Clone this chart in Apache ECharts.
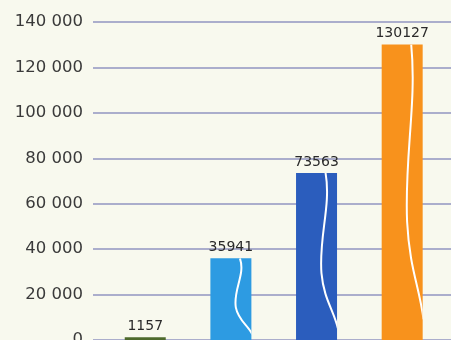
<!DOCTYPE html>
<html>
<head>
<meta charset="utf-8">
<script src="https://cdn.jsdelivr.net/npm/echarts@6/dist/echarts.min.js"></script>
<style>
html,body{margin:0;padding:0;background:#f8f9ee;}
#c{width:451px;height:340px;}
</style>
</head>
<body>
<div id="c"></div>
<script>
var categories = ['A', 'B', 'C', 'D'];
var values = [1157, 35941, 73563, 130127];
var colors = ['#4e6a2c', '#2d9be2', '#2b5dbd', '#f8921c'];
var yTicks = [0, 20000, 40000, 60000, 80000, 100000, 120000, 140000];

function fmt(v) {
  return String(v).replace(/\B(?=(\d{3})+(?!\d))/g, ' ');
}

var barData = values.map(function (v, i) {
  return { value: [i, v], itemStyle: { color: colors[i] } };
});

var chart = echarts.init(document.getElementById('c'), null, { renderer: 'canvas' });
chart.setOption({
  backgroundColor: '#f8f9ee',
  animation: false,
  grid: { left: 93, right: 0, top: 22, bottom: 0, containLabel: false, outerBoundsMode: 'none' },
  xAxis: {
    type: 'value', min: -0.61, max: 3.57,
    show: false
  },
  yAxis: {
    type: 'value', min: yTicks[0], max: yTicks[yTicks.length - 1], interval: 20000,
    axisLine: { show: false }, axisTick: { show: false },
    splitLine: { lineStyle: { color: '#abaecc', width: 2 } },
    axisLabel: {
      margin: 10, color: '#3a3a3a', fontSize: 16.5, fontFamily: 'DejaVu Sans',
      padding: [0, 0, 7, 0],
      formatter: function (v) { return fmt(v); }
    }
  },
  series: [
    {
      type: 'bar', data: barData, barWidth: 41,
      label: {
        show: true, position: 'top', distance: 4,
        color: '#2a2a2a', fontSize: 14, fontFamily: 'DejaVu Sans',
        formatter: function (p) { return String(p.value[1]); }
      }
    },
    {
      type: 'custom', silent: true, z: 5,
      data: values.map(function (v, i) { return [i, v]; }),
      renderItem: function (params, api) {
        var top = api.coord([api.value(0), api.value(1)]);
        var bot = api.coord([api.value(0), 0]);
        var w = 41, x0 = top[0] - w / 2, t = top[1], b = bot[1];
        var h = b - t;
        if (h < 20) return null;
        var p = 'M' + (x0 + 0.72 * w) + ' ' + t +
          ' C' + (x0 + 0.86 * w) + ' ' + (t + 0.2 * h) + ',' +
          (x0 + 0.55 * w) + ' ' + (t + 0.38 * h) + ',' +
          (x0 + 0.62 * w) + ' ' + (t + 0.6 * h) +
          ' C' + (x0 + 0.68 * w) + ' ' + (t + 0.76 * h) + ',' +
          (x0 + 0.92 * w) + ' ' + (t + 0.82 * h) + ',' +
          (x0 + 1.02 * w) + ' ' + (t + 0.93 * h);
        return {
          type: 'path',
          shape: { pathData: p },
          style: { fill: null, stroke: '#ffffff', lineWidth: 2 },
          clipPath: { type: 'rect', shape: { x: x0, y: t, width: w, height: h } }
        };
      }
    }
  ]
});
</script>
</body>
</html>
